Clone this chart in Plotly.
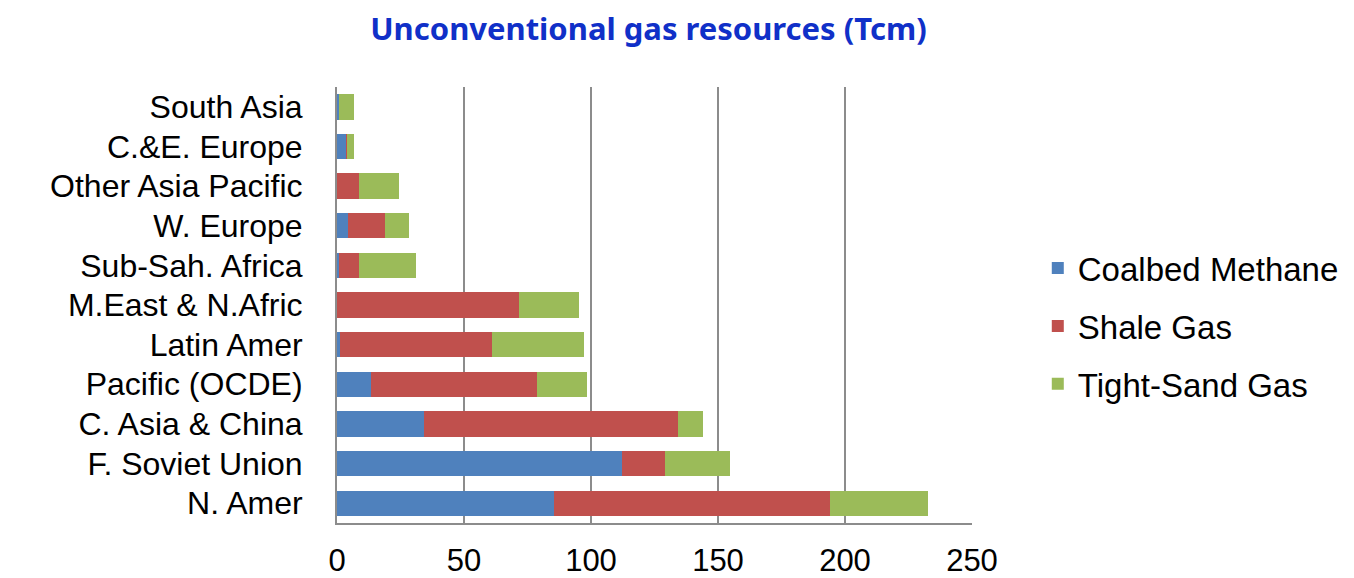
import plotly.graph_objects as go

regions = ["N. Amer", "F. Soviet Union", "C. Asia & China", "Pacific (OCDE)", "Latin Amer",
           "M.East & N.Afric", "Sub-Sah. Africa", "W. Europe", "Other Asia Pacific",
           "C.&E. Europe", "South Asia"]

coalbed_methane = [85.3, 112.3, 34.1, 13.2, 1.0, 0.0, 0.9, 4.2, 0.0, 3.6, 0.9]
shale_gas = [108.7, 17.0, 100.3, 65.6, 59.9, 71.7, 7.8, 14.6, 8.7, 0.5, 0.0]
tight_sand_gas = [38.8, 25.5, 9.6, 19.5, 36.5, 23.7, 22.3, 9.6, 15.9, 2.5, 5.7]

x_ticks = [0, 50, 100, 150, 200, 250]

series = [
    ("Coalbed Methane", coalbed_methane, "#4F81BD"),
    ("Shale Gas", shale_gas, "#C0504D"),
    ("Tight-Sand Gas", tight_sand_gas, "#9BBB59"),
]

fig = go.Figure()
for name, vals, col in series:
    fig.add_trace(go.Bar(y=regions, x=vals, name=name, orientation="h",
                         marker=dict(color=col, line=dict(width=0)),
                         legendgroup=name))

# page body has an 8px margin, so margins are shifted by 8
fig.update_layout(
    barmode="stack",
    bargap=0.36,
    width=1354, height=578,
    margin=dict(l=329, r=390, t=79, b=63),
    plot_bgcolor="white",
    paper_bgcolor="white",
    font=dict(family="Liberation Sans, Arial", size=32, color="black"),
    title=dict(text="<b>Unconventional gas resources (Tcm)</b>",
               font=dict(family="Noto Sans", size=31, color="#1030C8"),
               x=0.473, xanchor="center", y=0.964, yanchor="middle"),
    legend=dict(x=1.1036, xanchor="left", y=0.649, yanchor="top",
                traceorder="grouped", tracegroupgap=12,
                font=dict(size=33)),
)

fig.update_xaxes(range=[0, 250], tickvals=x_ticks, showgrid=True,
                 gridcolor="#8c8c8c", gridwidth=2, showline=True,
                 linecolor="#8c8c8c", linewidth=2, zeroline=False,
                 ticks="", ticklabelstandoff=9, automargin=False,
                 tickfont=dict(size=31))
fig.update_yaxes(showline=True, linecolor="#8c8c8c", linewidth=2,
                 tickmode="array", tickvals=regions,
                 ticks="", ticklabelstandoff=26, showgrid=False,
                 automargin=False)

fig.write_html("out.html")
